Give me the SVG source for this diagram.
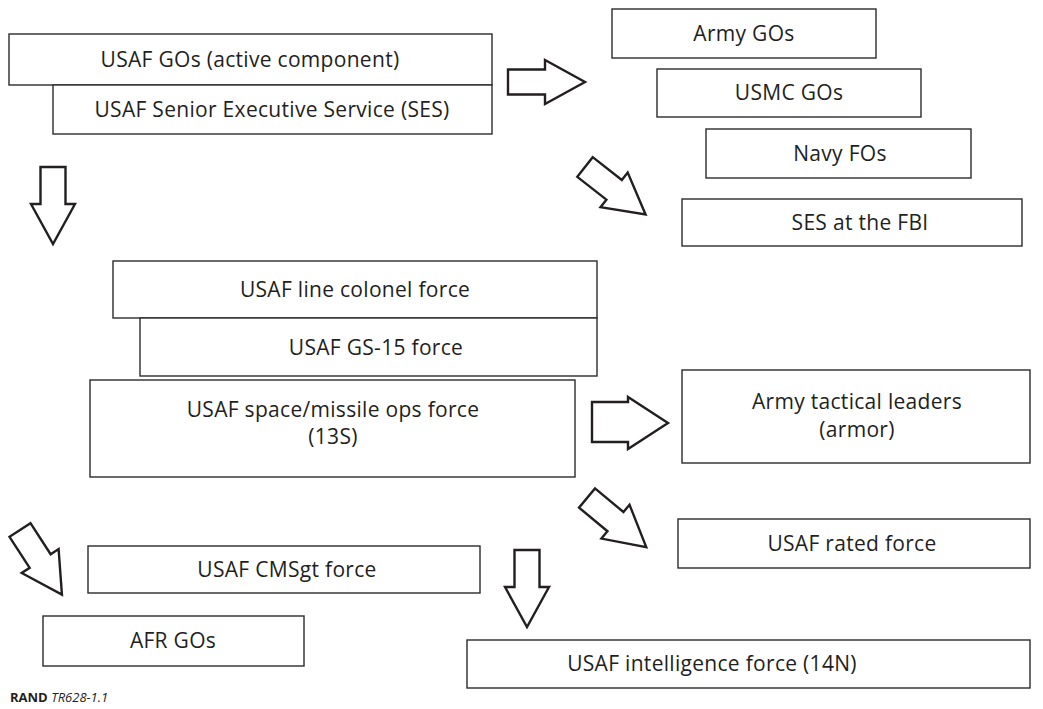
<svg xmlns="http://www.w3.org/2000/svg" width="1043" height="709" viewBox="0 0 1043 709">
<style>
.box{fill:#fff;stroke:#2b2b2b;stroke-width:1.4}
.t{font-family:"Open Sans","Noto Sans",sans-serif;font-size:21px;letter-spacing:0.3px;fill:#231f20;text-anchor:middle}
.arr{fill:#fff;stroke:#231f20;stroke-width:2.4;stroke-linejoin:miter}
.foot{font-family:"Open Sans","Noto Sans",sans-serif;font-size:13px;fill:#231f20}
</style>
<defs>
<path id="arrow" class="arr" d="M0,-12.5 L37,-12.5 L37,-22 L77,0 L37,22 L37,12.5 L0,12.5 Z"/>
</defs>
<rect width="1043" height="709" fill="#fff"/>
<g id="connectors">
<use href="#arrow" transform="translate(508,82)"/>
<use href="#arrow" transform="translate(585,167) rotate(38.1)"/>
<use href="#arrow" transform="translate(53,167) rotate(90)"/>
<path class="arr" d="M592,402 L628,402 L628,397 L668,423 L628,449 L628,442 L592,442 Z"/>
<use href="#arrow" transform="translate(587,498) rotate(39.7)"/>
<use href="#arrow" transform="translate(20,530) rotate(57)"/>
<use href="#arrow" transform="translate(527,550) rotate(90)"/>
</g>
<g id="n-usaf-gos"><rect class="box" x="9" y="34" width="483" height="51"/><text class="t" x="250" y="67">USAF GOs (active component)</text></g>
<g id="n-usaf-ses"><rect class="box" x="53" y="85" width="439" height="49"/><text class="t" x="272" y="117">USAF Senior Executive Service (SES)</text></g>
<g id="n-army-gos"><rect class="box" x="612" y="9" width="264" height="49"/><text class="t" x="744" y="41">Army GOs</text></g>
<g id="n-usmc-gos"><rect class="box" x="657" y="69" width="264" height="48"/><text class="t" x="789" y="100">USMC GOs</text></g>
<g id="n-navy-fos"><rect class="box" x="706" y="129" width="265" height="49"/><text class="t" x="840" y="161">Navy FOs</text></g>
<g id="n-ses-fbi"><rect class="box" x="682" y="199" width="340" height="47"/><text class="t" x="860" y="230">SES at the FBI</text></g>
<g id="n-line-col"><rect class="box" x="113" y="261" width="484" height="57"/><text class="t" x="355" y="297">USAF line colonel force</text></g>
<g id="n-gs15"><rect class="box" x="140" y="318" width="457" height="58"/><text class="t" x="376" y="355">USAF GS-15 force</text></g>
<g id="n-space"><rect class="box" x="90" y="380" width="485" height="97"/><text class="t" x="333" y="417">USAF space/missile ops force</text><text class="t" x="333" y="444">(13S)</text></g>
<g id="n-army-tac"><rect class="box" x="682" y="370" width="348" height="93"/><text class="t" x="857" y="409">Army tactical leaders</text><text class="t" x="857" y="437">(armor)</text></g>
<g id="n-rated"><rect class="box" x="678" y="519" width="352" height="49"/><text class="t" x="852" y="551">USAF rated force</text></g>
<g id="n-cmsgt"><rect class="box" x="88" y="546" width="392" height="47"/><text class="t" x="287" y="577">USAF CMSgt force</text></g>
<g id="n-afr"><rect class="box" x="43" y="616" width="261" height="50"/><text class="t" x="173" y="648">AFR GOs</text></g>
<g id="n-intel"><rect class="box" x="467" y="640" width="563" height="48"/><text class="t" x="712" y="671">USAF intelligence force (14N)</text></g>
<text class="foot" x="10" y="702"><tspan font-weight="bold">RAND</tspan> <tspan font-style="italic">TR628-1.1</tspan></text>
</svg>
